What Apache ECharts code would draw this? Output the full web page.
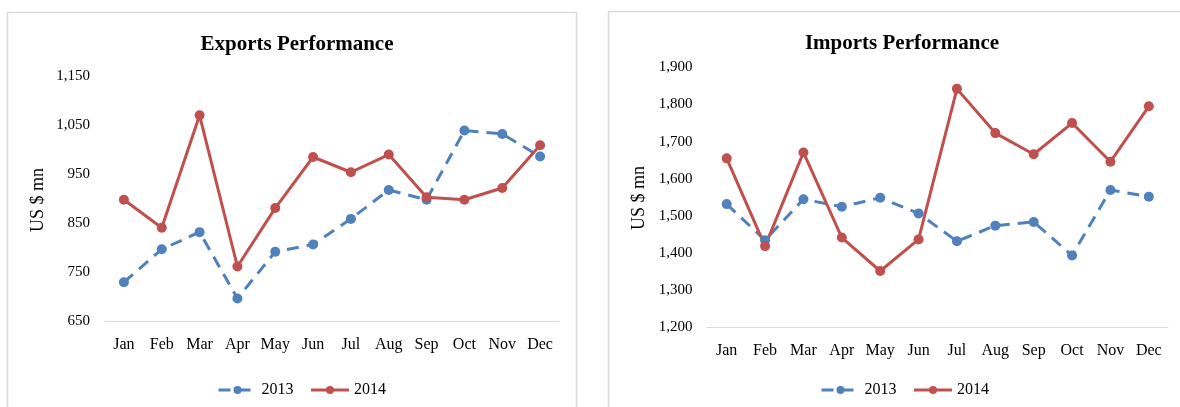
<!DOCTYPE html>
<html><head><meta charset="utf-8">
<script src="https://cdn.jsdelivr.net/npm/echarts@6/dist/echarts.min.js"></script>
<style>html,body{margin:0;padding:0;background:#fff}#c{width:1180px;height:407px}</style>
</head><body><div id="c"></div>
<script>
const months = ['Jan','Feb','Mar','Apr','May','Jun','Jul','Aug','Sep','Oct','Nov','Dec'];
const exports2013 = [730, 797, 832, 697, 792, 807, 859, 918, 898, 1039, 1032, 986];
const exports2014 = [898, 841, 1070, 762, 881, 985, 954, 990, 903, 898, 922, 1009];
const imports2013 = [1532, 1435, 1545, 1525, 1549, 1507, 1432, 1474, 1484, 1394, 1570, 1552];
const imports2014 = [1655, 1419, 1671, 1442, 1352, 1437, 1842, 1723, 1666, 1750, 1646, 1795];
const seriesNames = ['2013', '2014'];
const exportsTitle = 'Exports Performance';
const importsTitle = 'Imports Performance';
const yName = 'US $ mn';

const FONT = '"Liberation Serif", "Times New Roman", serif';
const BLUE = '#4f81bd', RED = '#c0504d';
const fmt = v => v.toLocaleString('en-US');

function mkSeries(name, data, idx, color, dashed) {
  return {
    name, type: 'line', data, xAxisIndex: idx, yAxisIndex: idx,
    symbol: 'circle', symbolSize: 10, showSymbol: true,
    itemStyle: { color },
    lineStyle: { color, width: 3, type: dashed ? [12, 8] : 'solid', cap: 'butt' },
    animation: false
  };
}
function xAx(idx) {
  return {
    type: 'category', gridIndex: idx, data: months, boundaryGap: true,
    axisLine: { lineStyle: { color: '#d9d9d9', width: 1 } },
    axisTick: { show: false },
    axisLabel: { color: '#000', fontFamily: FONT, fontSize: 16, margin: 15, interval: 0, hideOverlap: false },
    splitLine: { show: false }
  };
}
function yAx(idx, min, max) {
  return {
    type: 'value', gridIndex: idx, min, max, interval: 100,
    axisLine: { show: false }, axisTick: { show: false },
    splitLine: { show: false },
    axisLabel: { color: '#000', fontFamily: FONT, fontSize: 15, margin: 15, formatter: fmt }
  };
}
const legendBase = {
  itemWidth: 38, itemHeight: 10, itemGap: 16, top: 377, selectedMode: false,
  textStyle: { fontFamily: FONT, fontSize: 16, color: '#000' },
  lineStyle: { width: 3 }
};
const chart = echarts.init(document.getElementById('c'), null, { renderer: 'canvas' });
chart.setOption({
  animation: false,
  backgroundColor: '#fff',
  title: [
    { text: exportsTitle, left: 292, top: 29, textAlign: 'center',
      textStyle: { fontFamily: FONT, fontSize: 21, fontWeight: 'bold', color: '#000' } },
    { text: importsTitle, left: 897, top: 28, textAlign: 'center',
      textStyle: { fontFamily: FONT, fontSize: 21, fontWeight: 'bold', color: '#000' } }
  ],
  grid: [
    { left: 105, right: 1180 - 559, top: 76, bottom: 407 - 321.5 },
    { left: 707.5, right: 1180 - 1168, top: 67.3, bottom: 407 - 327.5 }
  ],
  legend: [
    Object.assign({}, legendBase, { data: seriesNames.slice(), left: 212 }),
    Object.assign({}, legendBase, { data: seriesNames.map(n => n + ' '), left: 815, formatter: n => n.trim() })
  ],
  xAxis: [xAx(0), xAx(1)],
  yAxis: [yAx(0, 650, 1150), yAx(1, 1200, 1900)],
  series: [
    mkSeries(seriesNames[0], exports2013, 0, BLUE, true),
    mkSeries(seriesNames[1], exports2014, 0, RED, false),
    mkSeries(seriesNames[0] + ' ', imports2013, 1, BLUE, true),
    mkSeries(seriesNames[1] + ' ', imports2014, 1, RED, false)
  ],
  graphic: [
    { type: 'rect', shape: { x: 7.5, y: 12.5, width: 569, height: 420 }, silent: true,
      style: { fill: 'none', stroke: '#d9d9d9', lineWidth: 1.5 }, z: -1 },
    { type: 'rect', shape: { x: 608.5, y: 11.5, width: 600, height: 420 }, silent: true,
      style: { fill: 'none', stroke: '#d9d9d9', lineWidth: 1.5 }, z: -1 },
    { type: 'text', x: 38, y: 200, rotation: Math.PI / 2, silent: true,
      style: { text: yName, font: '18px ' + FONT, fill: '#000', textAlign: 'center', textVerticalAlign: 'middle' } },
    { type: 'text', x: 639, y: 198, rotation: Math.PI / 2, silent: true,
      style: { text: yName, font: '18px ' + FONT, fill: '#000', textAlign: 'center', textVerticalAlign: 'middle' } }
  ]
});
</script></body></html>
